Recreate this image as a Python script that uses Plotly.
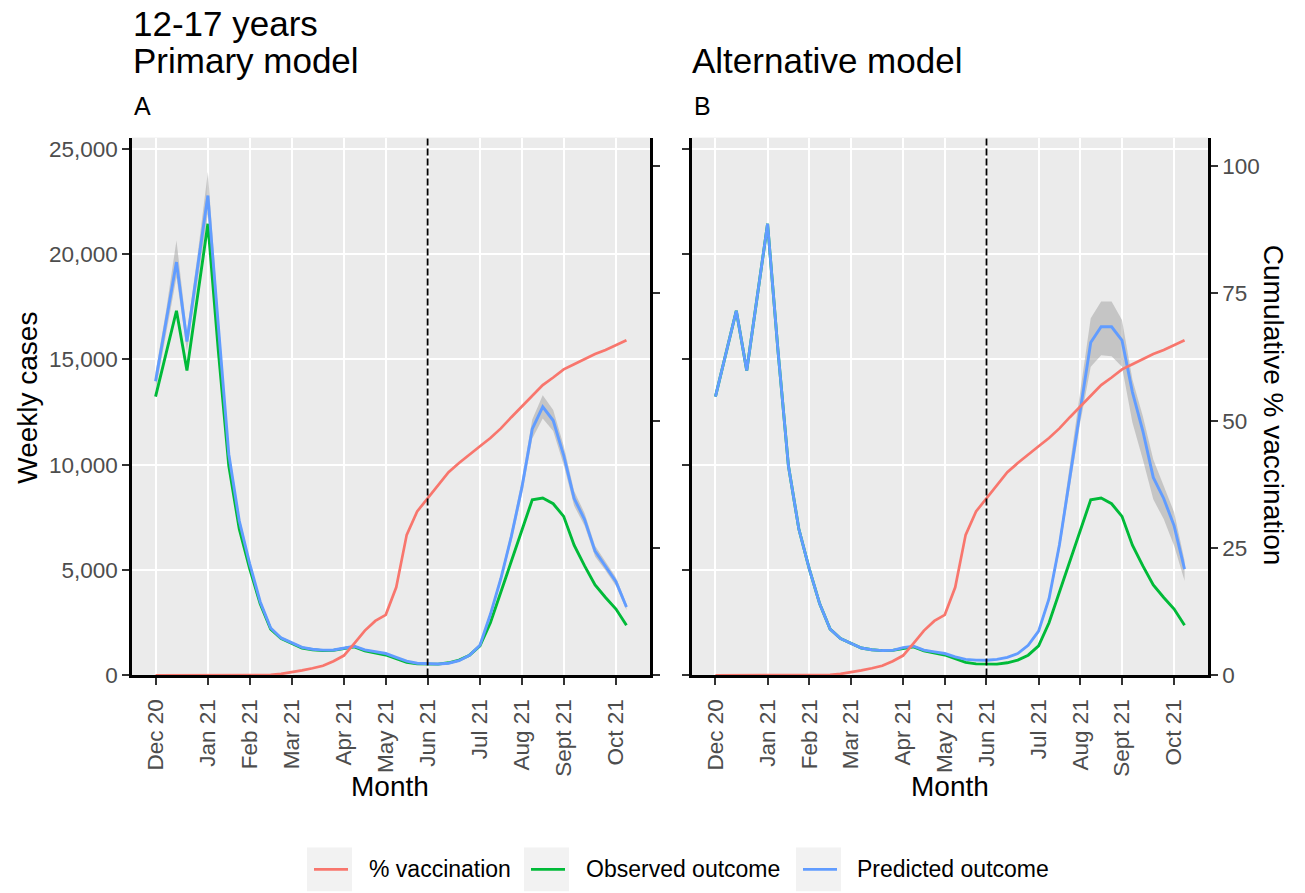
import pandas as pd
import plotly.graph_objects as go

# Weekly series, one value per week starting Wednesday 2 Dec 2020
week_start = pd.date_range("2020-12-02", periods=46, freq="7D")

observed = [13230, 15300, 17310, 14470, 17950, 21440, 15400, 9950, 6950, 5060,
            3400, 2200, 1750, 1530, 1300, 1220, 1180, 1190, 1290, 1360,
            1170, 1070, 970, 800, 620, 550, 540, 535, 600, 730,
            960, 1400, 2500, 3950, 5350, 6800, 8340, 8420, 8150, 7550,
            6180, 5200, 4300, 3700, 3150, 2380]

pred_primary = [13960, 16800, 19620, 15850, 19300, 22780, 16600, 10500, 7340, 5300,
                3500, 2250, 1780, 1560, 1330, 1240, 1200, 1210, 1310, 1385,
                1210, 1120, 1040, 860, 680, 580, 550, 545, 580, 700,
                960, 1430, 2900, 4600, 6600, 8900, 11700, 12750, 12100, 10450,
                8400, 7400, 5900, 5200, 4450, 3250]

primary_lower = [13500, 16300, 18900, 15400, 18700, 21900, 16100, 10200, 7100, 5150,
                 3400, 2180, 1720, 1510, 1290, 1200, 1160, 1170, 1270, 1340,
                 1170, 1080, 1000, 830, 650, 560, 530, 525, 560, 670,
                 920, 1370, 2780, 4420, 6350, 8550, 11250, 12200, 11600, 10000,
                 8050, 7100, 5650, 4980, 4250, 3100]

primary_upper = [14400, 17300, 20650, 16300, 19900, 23900, 17100, 10800, 7550, 5450,
                 3600, 2320, 1840, 1610, 1370, 1280, 1240, 1250, 1350, 1430,
                 1250, 1160, 1080, 890, 710, 600, 570, 565, 600, 730,
                 1000, 1490, 3020, 4780, 6850, 9250, 12150, 13300, 12600, 10900,
                 8750, 7700, 6150, 5420, 4650, 3400]

pred_alt = [13230, 15300, 17310, 14470, 17950, 21440, 15400, 9950, 6950, 5060,
            3400, 2200, 1750, 1530, 1300, 1220, 1180, 1190, 1320, 1390,
            1200, 1120, 1040, 880, 760, 725, 720, 760, 860, 1040,
            1430, 2100, 3640, 6200, 9400, 12700, 15800, 16550, 16550, 15900,
            13450, 11600, 9400, 8400, 7100, 5050]

alt_lower = [13230, 15300, 17310, 14470, 17950, 21440, 15400, 9950, 6950, 5060,
             3400, 2200, 1750, 1530, 1300, 1220, 1180, 1190, 1300, 1370,
             1180, 1100, 1020, 860, 740, 705, 700, 740, 830, 1000,
             1370, 2000, 3480, 5900, 8950, 12000, 14650, 15200, 15150, 14650,
             12000, 10250, 8360, 7420, 6160, 4500]

alt_upper = [13230, 15300, 17310, 14470, 17950, 21440, 15400, 9950, 6950, 5060,
             3400, 2200, 1750, 1530, 1300, 1220, 1180, 1190, 1340, 1410,
             1220, 1140, 1060, 900, 780, 745, 740, 780, 890, 1080,
             1490, 2200, 3800, 6500, 9900, 13500, 16950, 17750, 17750, 16870,
             14050, 12300, 10250, 9000, 7750, 5450]

vaccination_pct = [0, 0, 0, 0, 0, 0, 0, 0, 0, 0,
                   0.05, 0.1, 0.3, 0.6, 1.0, 1.4, 1.9, 2.8, 3.9, 6.3,
                   8.8, 10.7, 11.9, 17.3, 27.6, 32.2, 34.8, 37.3, 39.9, 41.7,
                   43.4, 45.0, 46.6, 48.5, 50.7, 52.8, 54.8, 57.0, 58.5, 60.1,
                   61.1, 62.1, 63.1, 63.9, 64.8, 65.8]

tick_weeks = [0, 5, 9, 13, 18, 22, 26, 31, 35, 39, 44]
tick_labels = ["Dec 20", "Jan 21", "Feb 21", "Mar 21", "Apr 21", "May 21",
               "Jun 21", "Jul 21", "Aug 21", "Sept 21", "Oct 21"]
case_ticks = [0, 5000, 10000, 15000, 20000, 25000]
case_labels = ["0", "5,000", "10,000", "15,000", "20,000", "25,000"]
pct_ticks = [0, 25, 50, 75, 100]
intervention_week = 26

COL_VAC = "#F8766D"
COL_OBS = "#00BA38"
COL_PRED = "#619CFF"
FONT = "Liberation Sans, Arial, Helvetica, sans-serif"

W, H = 1305, 893
H_VIEW = 881.7  # visible page height used for vertical placement


def px(x):
    return x / W


def py(y):
    return 1 - y / H_VIEW


tick_dates = [week_start[i] for i in tick_weeks]
pad = pd.Timedelta(days=(week_start[-1] - week_start[0]).days * 0.05)
x_range = [(week_start[0] - pad).strftime("%Y-%m-%d %H:%M:%S"),
           (week_start[-1] + pad).strftime("%Y-%m-%d %H:%M:%S")]
case_max = 25530
pct_max = 105.6

fig = go.Figure()

panels = [
    ("x", "y", "y2", pred_primary, primary_lower, primary_upper),
    ("x2", "y3", "y4", pred_alt, alt_lower, alt_upper),
]
for xa, ya, ya2, pred, lo, hi in panels:
    fig.add_trace(go.Scatter(x=week_start, y=lo, xaxis=xa, yaxis=ya, mode="lines",
                             line=dict(width=0), showlegend=False, hoverinfo="skip"))
    fig.add_trace(go.Scatter(x=week_start, y=hi, xaxis=xa, yaxis=ya, mode="lines",
                             line=dict(width=0), fill="tonexty",
                             fillcolor="rgba(160,160,160,0.5)", showlegend=False,
                             hoverinfo="skip"))
    fig.add_trace(go.Scatter(x=week_start, y=observed, xaxis=xa, yaxis=ya, mode="lines",
                             line=dict(color=COL_OBS, width=2.9), name="Observed outcome",
                             showlegend=False))
    fig.add_trace(go.Scatter(x=week_start, y=pred, xaxis=xa, yaxis=ya, mode="lines",
                             line=dict(color=COL_PRED, width=2.9), name="Predicted outcome",
                             showlegend=False))
    fig.add_trace(go.Scatter(x=week_start, y=vaccination_pct, xaxis=xa, yaxis=ya2,
                             mode="lines", line=dict(color=COL_VAC, width=2.7),
                             name="% vaccination", showlegend=False))

TICKFONT = dict(family=FONT, size=22.5, color="#4D4D4D")
x_common = dict(
    type="date", range=x_range, tickvals=tick_dates, ticktext=tick_labels,
    tickangle=-90, tickfont=TICKFONT, ticklabelstandoff=5,
    ticks="outside", ticklen=7, tickwidth=2.2, tickcolor="#333333",
    showgrid=True, gridcolor="white", gridwidth=2.2,
    showline=True, linecolor="black", linewidth=2.5, zeroline=False,
)
y_dom = [py(676.5), py(137)]
y_common = dict(
    domain=y_dom, range=[0, case_max], tickvals=case_ticks, ticktext=case_labels,
    tickfont=TICKFONT,
    ticks="outside", ticklen=7, tickwidth=2.2, tickcolor="#333333",
    showgrid=True, gridcolor="white", gridwidth=2.2,
    showline=True, linecolor="black", linewidth=2.5, zeroline=False,
)
y2_common = dict(
    range=[0, pct_max], tickvals=pct_ticks, side="right",
    tickfont=TICKFONT,
    ticks="outside", ticklen=7, tickwidth=2.2, tickcolor="#333333",
    showgrid=False, showline=True, linecolor="black", linewidth=2.5, zeroline=False,
)

fig.update_layout(
    width=W, height=H, margin=dict(l=0, r=0, t=0, b=0),
    paper_bgcolor="white", plot_bgcolor="#EBEBEB",
    font=dict(family=FONT, color="black"),
    showlegend=False,
    xaxis=dict(x_common, domain=[px(132), px(650)], anchor="y"),
    xaxis2=dict(x_common, domain=[px(692), px(1208)], anchor="y3"),
    yaxis=dict(y_common, anchor="x"),
    yaxis2=dict(y2_common, overlaying="y", anchor="x", showticklabels=False),
    yaxis3=dict(y_common, anchor="x2", showticklabels=False),
    yaxis4=dict(y2_common, overlaying="y3", anchor="x2", showticklabels=True),
)

shapes = []
for xa, ya in (("x", "y"), ("x2", "y3")):
    d = week_start[intervention_week]
    shapes.append(dict(type="line", xref=xa, yref=f"{ya} domain", x0=d, x1=d, y0=0, y1=1,
                       line=dict(color="black", width=1.8, dash="7px,3px"), layer="above"))

annotations = []


def text(s, x, y, size, xanchor="left", yanchor="middle", angle=0, color="black"):
    annotations.append(dict(text=s, x=px(x), y=py(y), xref="paper", yref="paper",
                            xanchor=xanchor, yanchor=yanchor, textangle=angle,
                            showarrow=False, font=dict(family=FONT, size=size, color=color)))


text("12-17 years", 131, 23, 35)
text("Primary model", 131, 60, 35)
text("Alternative model", 690, 60, 35)
text("A", 132, 105, 25)
text("B", 692, 105, 25)
text("Weekly cases", 28, 398, 28, xanchor="center", angle=-90)
text("Month", 390, 788, 28, xanchor="center")
text("Month", 950, 788, 28, xanchor="center")
text("Cumulative % vaccination", 1273, 405, 28, xanchor="center", angle=90)

# Legend drawn at the bottom: grey key boxes with a line sample and a label
legend_items = [("% vaccination", COL_VAC, 307, 367),
                ("Observed outcome", COL_OBS, 524, 584),
                ("Predicted outcome", COL_PRED, 796, 855)]
for label, col, bx, tx in legend_items:
    shapes.append(dict(type="rect", xref="paper", yref="paper",
                       x0=px(bx), x1=px(bx + 45), y0=py(893), y1=py(849),
                       fillcolor="#F2F2F2", line=dict(width=0), layer="below"))
    shapes.append(dict(type="line", xref="paper", yref="paper",
                       x0=px(bx + 7), x1=px(bx + 41), y0=py(871), y1=py(871),
                       line=dict(color=col, width=2.9)))
    text(label, tx, 871, 23)

fig.update_layout(shapes=shapes, annotations=annotations)
fig.write_html("out.html")
